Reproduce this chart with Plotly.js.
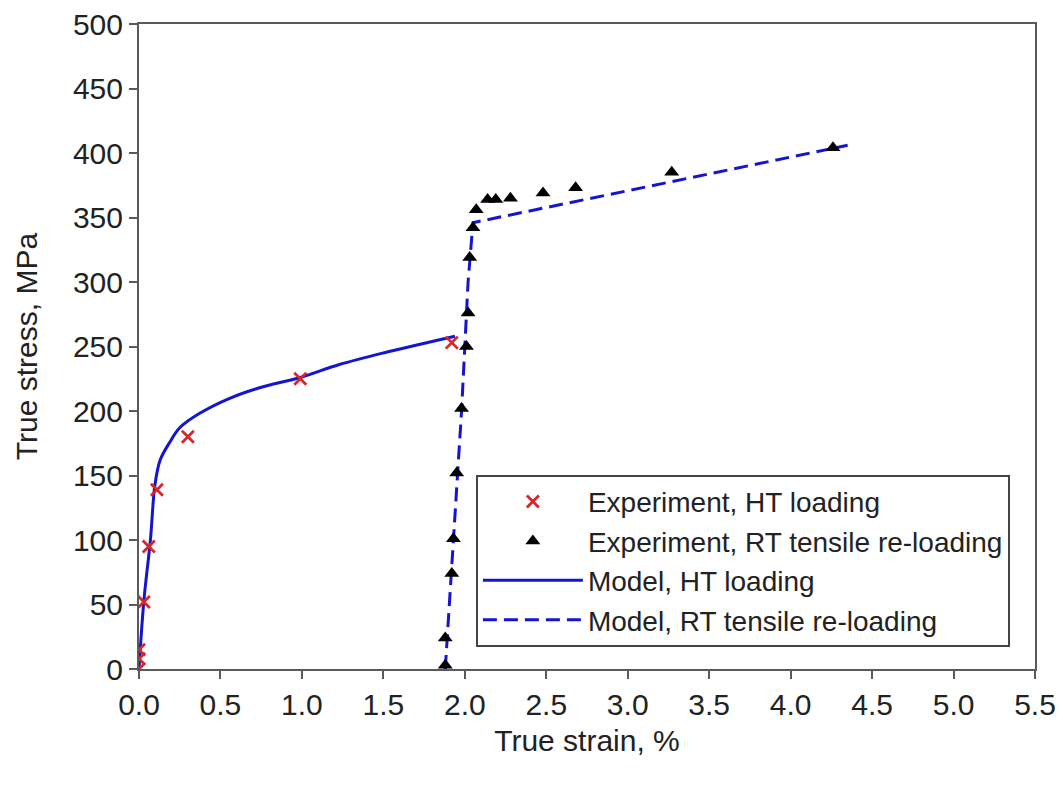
<!DOCTYPE html>
<html>
<head>
<meta charset="utf-8">
<script src="https://cdn.plot.ly/plotly-3.0.1.min.js"></script>
<style>
  html, body { margin: 0; padding: 0; background: #ffffff; }
  #chart { width: 1063px; height: 785px; }
</style>
</head>
<body>
<div id="chart"></div>
<script>
// Experiment, high-temperature loading (true strain %, true stress MPa)
const htExpStrain = [0.0, 0.0, 0.0, 0.03, 0.06, 0.11, 0.30, 0.99, 1.92];
const htExpStress = [0, 8, 15, 52, 95, 139, 180, 225, 253];

// Experiment, room-temperature tensile re-loading
const rtExpStrain = [1.88, 1.88, 1.92, 1.93, 1.95, 1.98, 2.01, 2.02, 2.03, 2.05, 2.07, 2.14, 2.19, 2.28, 2.48, 2.68, 3.27, 4.26];
const rtExpStress = [3, 24, 74, 101, 152, 202, 250, 276, 319, 342, 356, 364, 364, 365, 369, 373, 385, 404];

// Model, HT loading
const htModelStrain = [0.0, 0.03, 0.07, 0.098, 0.13, 0.19, 0.25, 0.37, 0.56, 0.74, 0.99, 1.23, 1.5, 1.94];
const htModelStress = [0, 53, 100, 143, 162, 176, 187, 198, 210, 218, 226, 236, 245, 258];

// Model, RT tensile re-loading
const rtModelStrain = [1.88, 1.93, 1.98, 2.02, 2.05, 4.35];
const rtModelStress = [0, 100, 200, 300, 346, 406];

const blue = '#1414d2';
const axisGrey = '#5a5a5a';
const font = { family: 'Liberation Sans, Arial, sans-serif', size: 30, color: '#222222' };

const traces = [
  {
    x: htModelStrain, y: htModelStress, type: 'scatter', mode: 'lines',
    name: 'Model, HT loading', line: { color: blue, width: 3, shape: 'spline', smoothing: 1 },
    legendrank: 3
  },
  {
    x: rtModelStrain, y: rtModelStress, type: 'scatter', mode: 'lines',
    name: 'Model, RT tensile re-loading', line: { color: blue, width: 3, dash: '14px,7px' },
    legendrank: 4
  },
  {
    x: htExpStrain, y: htExpStress, type: 'scatter', mode: 'markers',
    name: 'Experiment, HT loading',
    marker: { symbol: 'x-thin', size: 12, line: { color: '#d8262a', width: 2.8 }, color: '#d8262a' },
    legendrank: 1
  },
  {
    x: rtExpStrain, y: rtExpStress, type: 'scatter', mode: 'markers',
    name: 'Experiment, RT tensile re-loading',
    marker: { symbol: 'triangle-up', size: 13, color: '#000000' },
    legendrank: 2
  }
];

const layout = {
  width: 1063, height: 785,
  margin: { l: 139, r: 28, t: 24, b: 116 },
  paper_bgcolor: '#ffffff', plot_bgcolor: '#ffffff',
  font: font,
  showlegend: true,
  legend: {
    x: 0.376, y: 0.301, xanchor: 'left', yanchor: 'top',
    bgcolor: '#ffffff', bordercolor: '#444444', borderwidth: 2,
    font: { family: font.family, size: 28, color: '#222222' },
    itemwidth: 100, tracegroupgap: 0
  },
  xaxis: {
    range: [0, 5.5], dtick: 0.5, tick0: 0, tickformat: '.1f',
    showline: true, linecolor: axisGrey, linewidth: 2, mirror: true,
    ticks: 'outside', ticklen: 8, tickwidth: 2, tickcolor: axisGrey,
    showgrid: false, zeroline: false,
    title: { text: 'True strain, %', font: font, standoff: 10 }
  },
  yaxis: {
    range: [0, 500], dtick: 50, tick0: 0,
    showline: true, linecolor: axisGrey, linewidth: 2, mirror: true,
    ticks: 'outside', ticklen: 8, tickwidth: 2, tickcolor: axisGrey,
    showgrid: false, zeroline: false,
    title: { text: 'True stress, MPa', font: font, standoff: 26 }
  }
};

Plotly.newPlot('chart', traces, layout, { displayModeBar: false, staticPlot: true });
</script>
</body>
</html>
